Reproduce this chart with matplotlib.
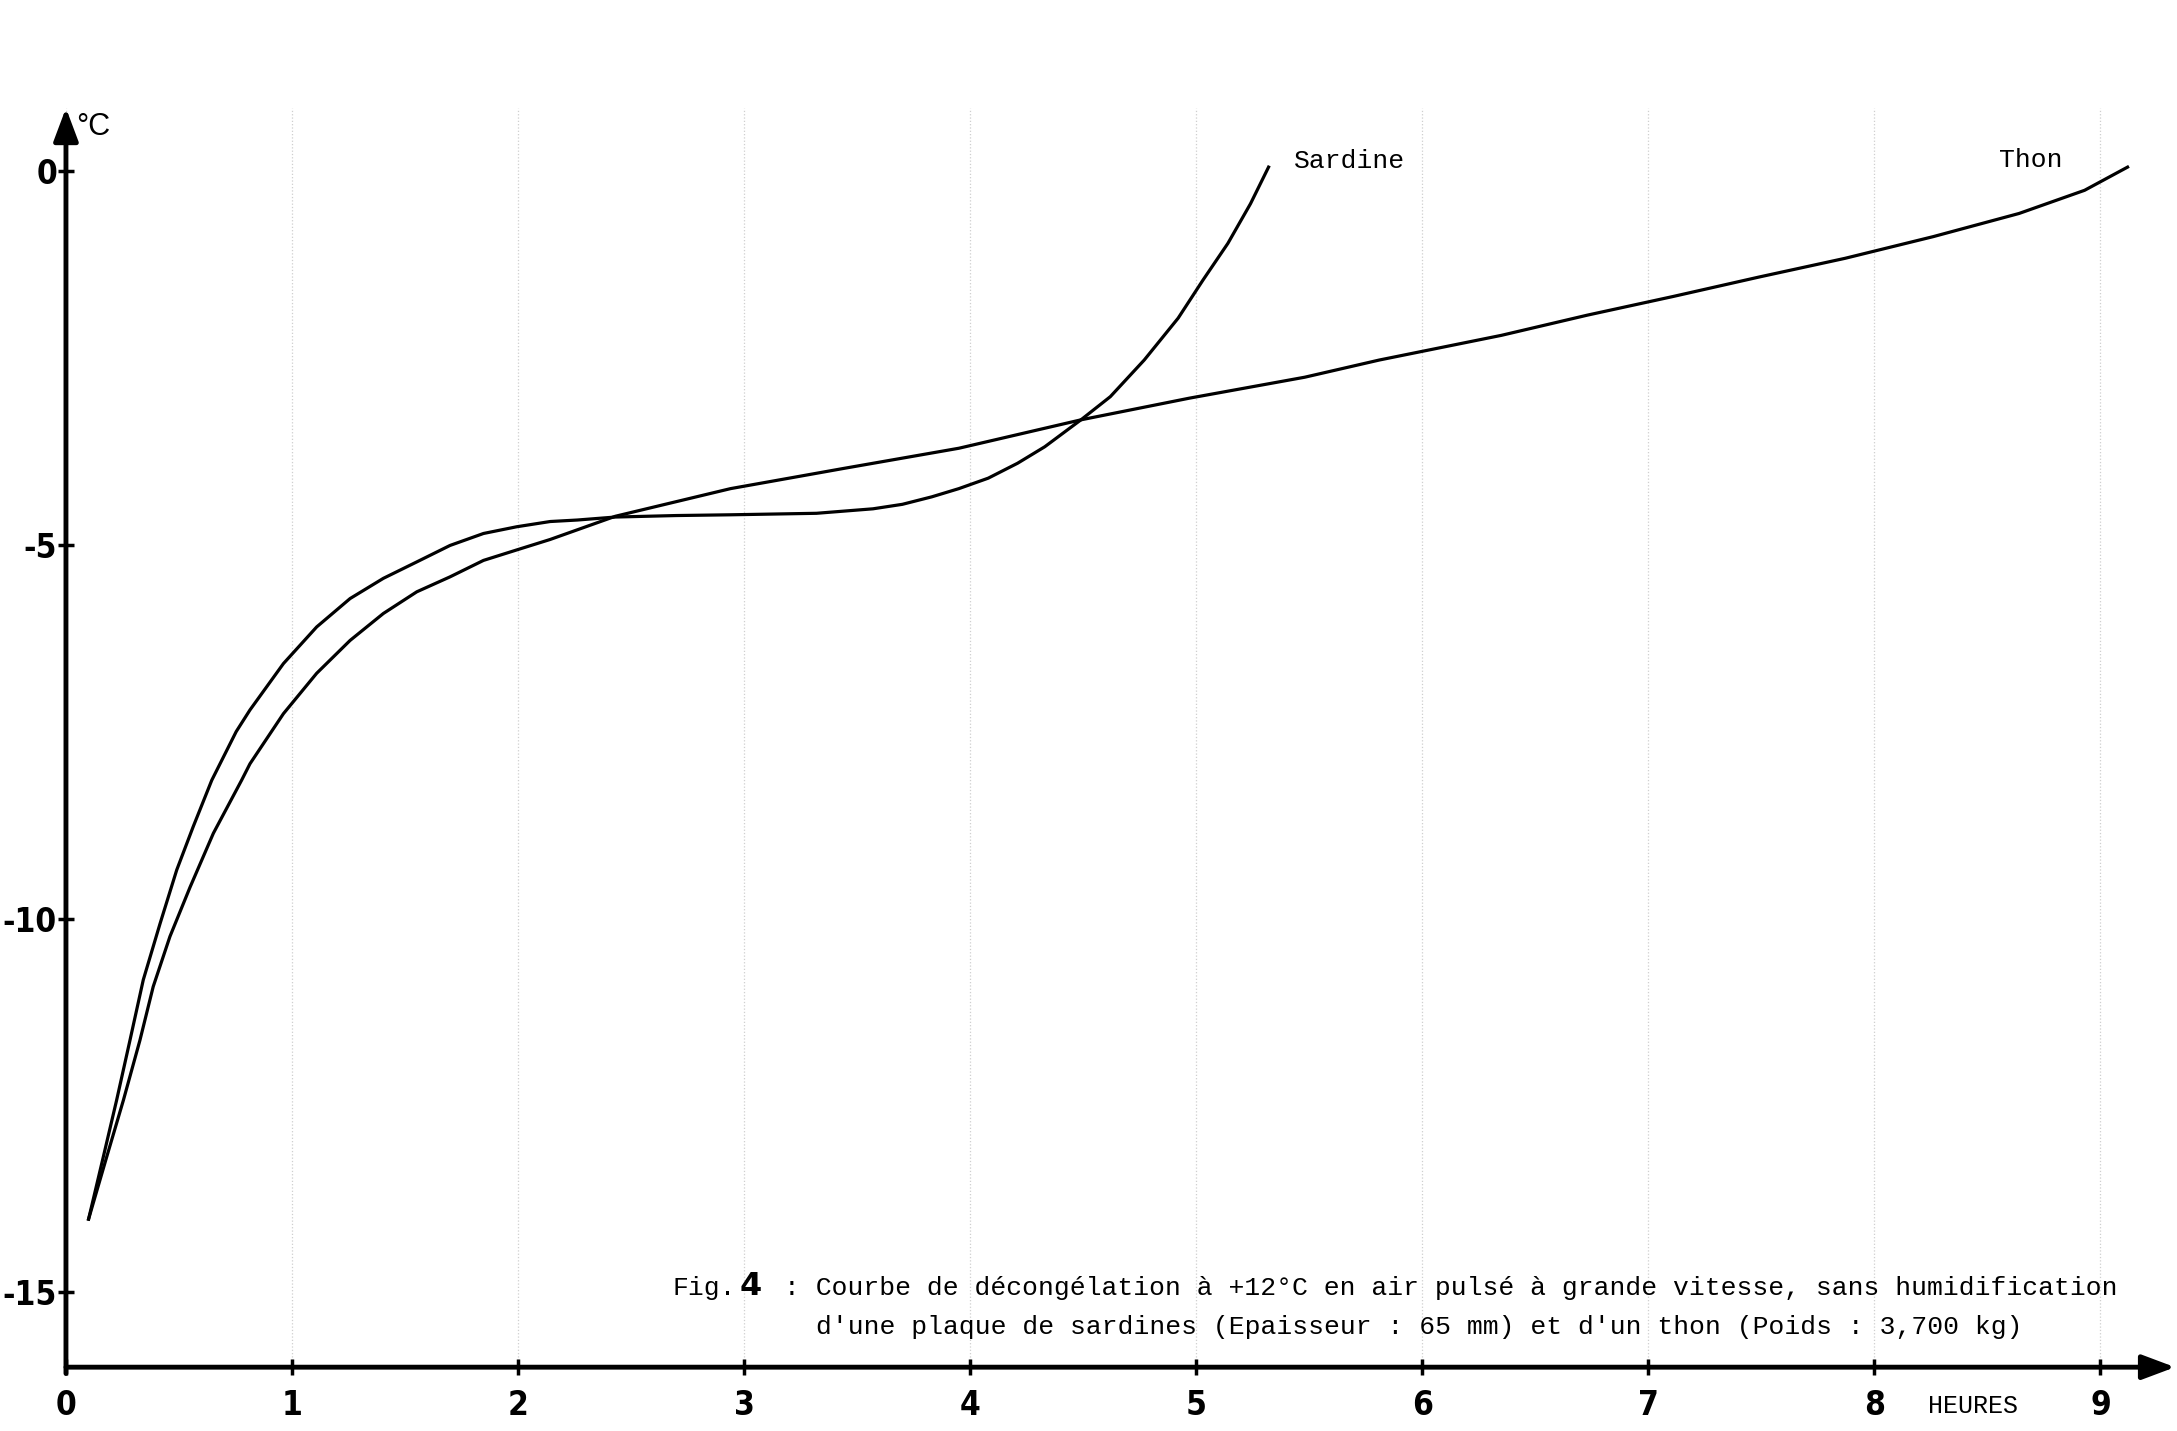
#!/usr/bin/env python

"""
Courbe de decongelation (sardine / thon), Fig. 4.
"""

import matplotlib
matplotlib.use('Agg')
import matplotlib.pyplot as plt
from matplotlib import font_manager

# values (hours, deg C)
sardine_h = [0.10, 0.165, 0.224, 0.283, 0.342, 0.416, 0.490, 0.563, 0.645, 0.753, 0.814, 0.962,
             1.109, 1.257, 1.404, 1.552, 1.699, 1.847, 1.994, 2.142, 2.262, 2.43, 2.70, 2.94,
             3.32, 3.57, 3.70, 3.83, 3.95, 4.08, 4.21, 4.33, 4.41, 4.49, 4.62, 4.77, 4.92,
             5.03, 5.14, 5.24, 5.32]
sardine_t = [-14.02, -13.19, -12.43, -11.63, -10.82, -10.07, -9.35, -8.77, -8.15, -7.50, -7.21, -6.59,
             -6.10, -5.72, -5.45, -5.23, -5.01, -4.85, -4.76, -4.69, -4.67, -4.63, -4.61, -4.60,
             -4.58, -4.52, -4.46, -4.36, -4.25, -4.11, -3.91, -3.69, -3.51, -3.33, -3.02, -2.53, -1.97,
             -1.46, -0.97, -0.44, 0.05]

thon_h = [0.10, 0.180, 0.254, 0.327, 0.386, 0.460, 0.549, 0.652, 0.777, 0.814, 0.962, 1.109,
          1.257, 1.404, 1.552, 1.699, 1.847, 1.994, 2.142, 2.43, 2.94, 3.44, 3.95, 4.49,
          4.97, 5.48, 5.81, 6.35, 6.73, 7.11, 7.49, 7.87, 8.26, 8.64, 8.93, 9.12]
thon_t = [-14.02, -13.19, -12.43, -11.63, -10.91, -10.24, -9.58, -8.86, -8.15, -7.93, -7.26, -6.72,
          -6.28, -5.92, -5.63, -5.43, -5.21, -5.07, -4.93, -4.62, -4.25, -3.98, -3.71, -3.33,
          -3.04, -2.76, -2.53, -2.20, -1.93, -1.68, -1.42, -1.17, -0.88, -0.57, -0.26, 0.05]

x_ticks = [0, 1, 2, 3, 4, 5, 6, 7, 8, 9]
y_ticks = [0, -5, -10, -15]
y_ticklabels = ['0', '-5', '-10', '-15']

caption_1 = ': Courbe de décongélation à +12°C en air pulsé à grande vitesse, sans humidification'
caption_2 = "d'une plaque de sardines (Epaisseur : 65 mm) et d'un thon (Poids : 3,700 kg)"

MONO = ['Liberation Mono', 'DejaVu Sans Mono']

# condensed bold sans for the tick numbers, whatever is there
fonts = font_manager.fontManager.ttflist
names = set(f.name for f in fonts)
if 'Liberation Sans Narrow' in names:
    NUM_FONT = dict(family='Liberation Sans Narrow', fontsize=27)
elif any(f.name == 'DejaVu Sans' and f.stretch == 'condensed' for f in fonts):
    NUM_FONT = dict(family='DejaVu Sans', fontstretch='condensed', fontsize=24)
else:
    NUM_FONT = dict(family='Liberation Sans', fontsize=24)

fig = plt.figure(figsize=(21.77, 14.31), dpi=100)
ax = fig.add_axes([0.0303, 0.0446, 0.9688, 0.8799])
ax.set_xlim(0, 9.33)
ax.set_ylim(-16.0, 0.84)

for s in ax.spines.values():
    s.set_visible(False)

# axes with arrows
arrow = dict(arrowstyle='-|>,head_length=0.4,head_width=0.15', lw=3.5, color='k',
             mutation_scale=50, shrinkA=0, shrinkB=0)
ax.annotate('', xy=(1, 0), xytext=(0, 0), xycoords='axes fraction', arrowprops=arrow)
ax.annotate('', xy=(0, 1), xytext=(0, -0.005), xycoords='axes fraction', arrowprops=arrow)

ax.plot(sardine_h, sardine_t, color='k', lw=2.3, solid_joinstyle='round', zorder=3)
ax.plot(thon_h, thon_t, color='k', lw=2.3, solid_joinstyle='round', zorder=3)

ax.set_xticks(x_ticks)
ax.set_yticks(y_ticks)
ax.set_yticklabels(y_ticklabels)
ax.tick_params(axis='both', direction='inout', length=11, width=2.5, color='k')
ax.tick_params(axis='x', pad=10)
ax.tick_params(axis='y', pad=1)
for lab in ax.get_xticklabels() + ax.get_yticklabels():
    lab.set_fontweight('bold')
    lab.set_fontfamily(NUM_FONT['family'])
    lab.set_fontsize(NUM_FONT['fontsize'])
    if 'fontstretch' in NUM_FONT:
        lab.set_fontstretch(NUM_FONT['fontstretch'])

# faint graph paper lines
ax.grid(True, axis='x', color='#cfcfcf', lw=0.9, ls=':', zorder=0)

fig.text(0.035, 0.906, '°C', family=['Liberation Sans', 'DejaVu Sans'], fontsize=22, va='baseline')
fig.text(0.8858, 0.0126, 'HEURES', family=MONO, fontsize=18, va='baseline')
fig.text(0.5944, 0.8826, 'Sardine', family=MONO, fontsize=19, va='baseline')
fig.text(0.9184, 0.8836, 'Thon', family=MONO, fontsize=19, va='baseline')

fig.text(0.3087, 0.0950, 'Fig.', family=MONO, fontsize=19, va='baseline')
fig.text(0.3399, 0.0950, '4', family=NUM_FONT['family'], fontweight='bold', fontsize=23, va='baseline')
fig.text(0.3603, 0.0950, caption_1, family=MONO, fontsize=19, va='baseline')
fig.text(0.375, 0.0679, caption_2, family=MONO, fontsize=19, va='baseline')

fig.savefig('out.png', dpi=100, facecolor='white')
